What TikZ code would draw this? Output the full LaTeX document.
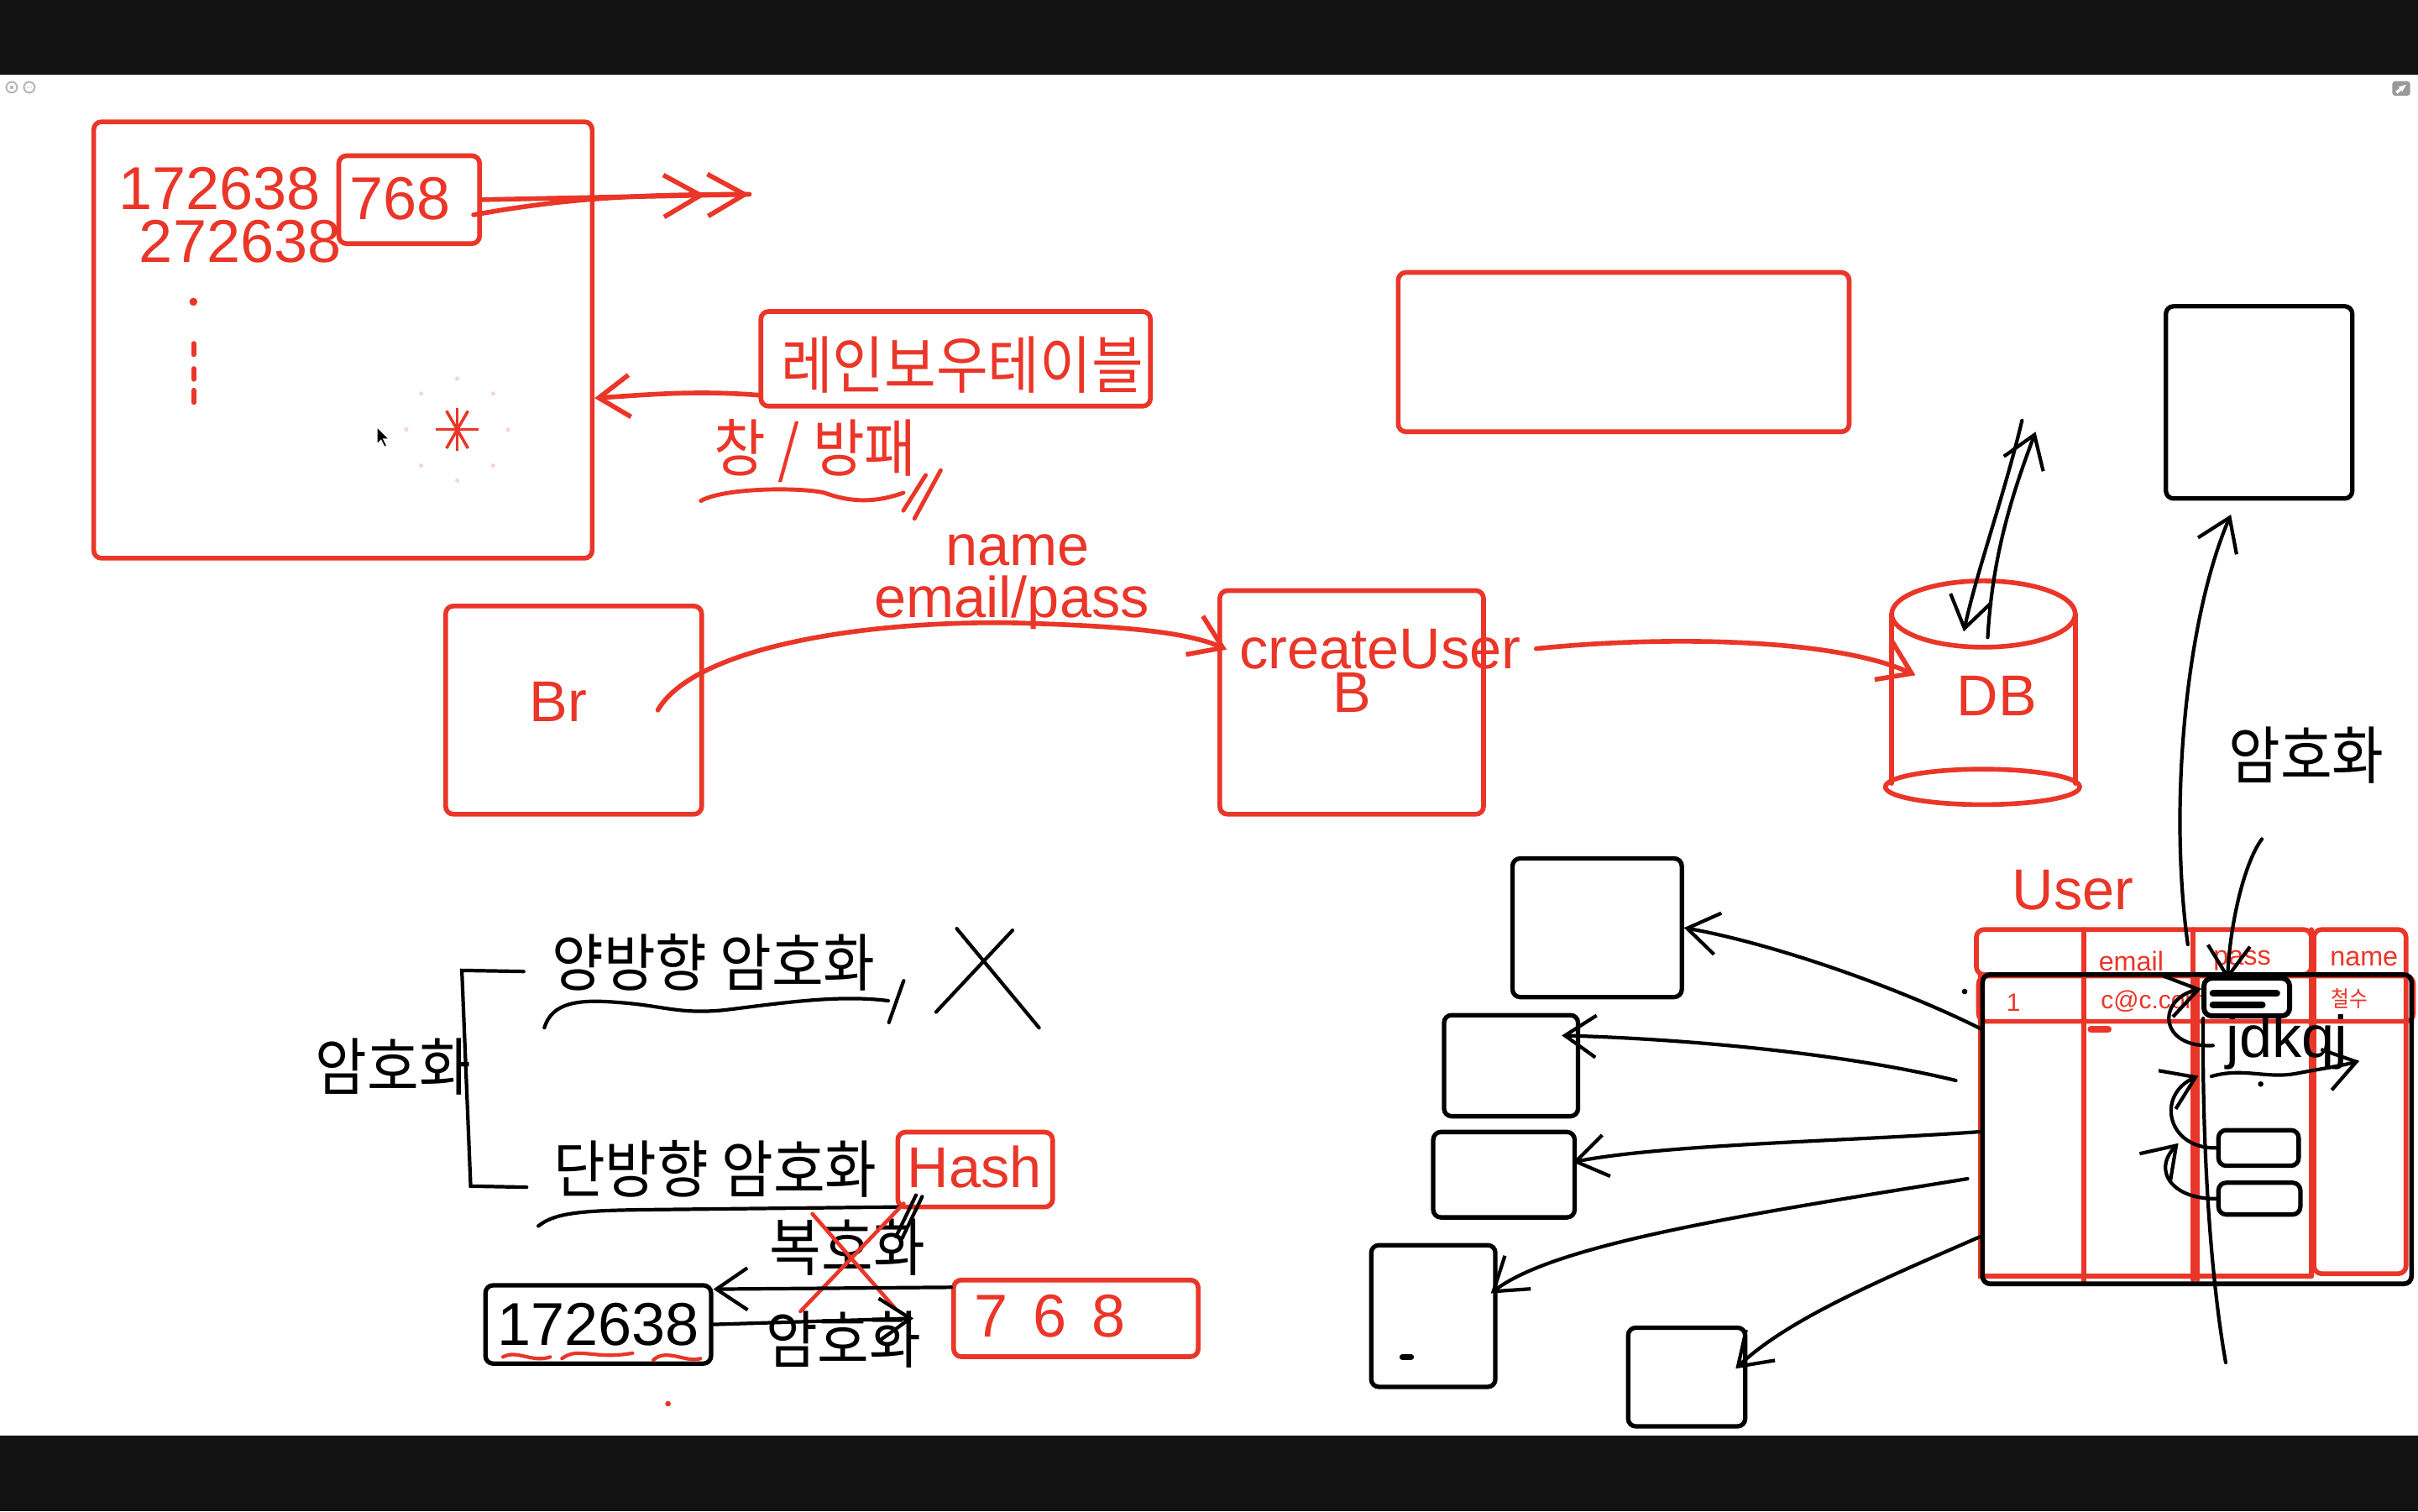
\documentclass[tikz,border=0pt]{standalone}
\usepackage{fontspec}
\setmainfont{Liberation Sans}
\newfontfamily\kr[FakeStretch=0.9]{Noto Sans CJK KR}
\usetikzlibrary{arrows.meta, fit, positioning}
\definecolor{inkred}{RGB}{234,54,40}
\definecolor{band}{RGB}{18,18,18}
\definecolor{glow}{RGB}{244,212,220}
\newcommand\bigsz{\fontsize{19.5}{23}\selectfont}
\newcommand\numsz{\fontsize{20.5}{24}\selectfont}
\newcommand\widesz{\fontsize{20.5}{24}\selectfont\spaceskip=8.5pt\relax}
\newcommand\krsz{\kr\fontsize{21.2}{25}\selectfont}

\begin{document}
\begin{tikzpicture}[x=0.18367mm, y=-0.18367mm,
  redbox/.style={draw=inkred, line width=1.6pt, rounded corners=2.6pt, inner sep=0pt},
  blkbox/.style={draw=black, line width=1.5pt, rounded corners=2.6pt, inner sep=0pt},
  redline/.style={draw=inkred, line width=1.6pt, line cap=round},
  blkline/.style={draw=black, line width=1.2pt, line cap=round},
  hand/.style={-{Straight Barb[length=3.7mm,width=5mm]}},
  redtxt/.style={text=inkred, font=\bigsz, inner sep=0pt},
  rednum/.style={text=inkred, font=\numsz, inner sep=0pt},
  blktxt/.style={text=black, font=\numsz, inner sep=0pt},
  redkr/.style={text=inkred, font=\krsz, inner sep=0pt},
  blkkr/.style={text=black, font=\krsz, inner sep=0pt},
  small/.style={text=inkred, font=\fontsize{9.2}{11}\selectfont, inner sep=0pt}]
\useasboundingbox (0,0) rectangle (1568,980);
\fill[white] (0,0) rectangle (1568,980);
\fill[band] (0,0) rectangle (1568,48.5);
\fill[band] (0,931) rectangle (1568,980);
\draw[gray!55, line width=.6pt] (7.6,56.6) circle[radius=3.5] (19,56.6) circle[radius=3.5];
\fill[gray!55] (6.6,55.6) rectangle (8.6,57.6);
\foreach \d in {-1.4,0,1.4} \fill[gray!55] (19+\d,56.6) circle[radius=.4];
\fill[gray!80, rounded corners=1pt] (1551.3,52.6) rectangle (1562.9,62.1);
\draw[white, line width=1pt, -{Stealth[length=1mm]}] (1554,60) -- (1560.5,54.8);

% rainbow table
\node[redbox, fit={(60.8,79) (384,362)}] (pool) {};
\node[rednum] (hashA) at (142.4,122.3) {172638};
\node[rednum] (hashB) at (155.8,156.6) {272638};
\node[redbox, fit={(219.7,101) (311,158)}] (cut) {};
\node[rednum] (cutnum) at (259.3,129.1) {768};
\coordinate (out) at (486,126);
\draw[redline, -{Straight Barb[length=4.4mm,width=5mm,sep=0pt] Straight Barb[length=4.4mm,width=5mm]}] (cut.east) -- (out);
\draw[redline] ([xshift=-1mm,yshift=-1.8mm]cut.east) .. controls (360,130) and (400,126) .. (out);
\fill[inkred] (125.4,195.7) circle[radius=2.6];
\foreach \a/\b in {222.7/230, 239/246, 253/261} \draw[redline] (125.6,\a) -- (125.6,\b);
\foreach \ang in {0,60,90,120} \draw[inkred, line width=1pt] (296.5,278.6) ++(\ang:14) -- ++(\ang+180:28);
\foreach \ang in {0,45,...,315} \fill[glow] (296.5,278.6) ++(\ang:33) circle[radius=1.4];
\fill[black, draw=white, line width=.3pt] (244.5,277) -- ++(0,11) -- ++(2.6,-2.6) -- ++(2.2,4.5) -- ++(1.6,-.8) -- ++(-2.2,-4.4) -- ++(3.6,0) -- cycle;
\node[redbox, fit={(493.4,202) (746,263.4)}] (rainbow) {};
\node[redkr] (rainbowtxt) at (624,236.8) {레인보우테이블};
\draw[redline, hand] ([yshift=1.6mm]rainbow.south west) .. controls (450,253) and (420,256) .. (pool.-13);
\node[redkr] (spear) at (528.6,292.6) {창 / 방패};
\draw[redline, line width=1.4pt] (454.5,324.8) .. controls (470,316) and (520,316) .. (534.7,319.6) .. controls (552,326) and (568,326) .. (585.8,319.6);
\draw[redline, line width=1.4pt] (585.8,331.1) -- (600.3,308.1) (593,336.3) -- (610,305);

% signup flow
\node[redbox, fit={(289,393) (455,528)}] (br) {};
\node[redtxt] (brtxt) at (362,455) {Br};
\node[redbox, fit={(791,383) (962,528)}] (create) {};
\node[redtxt] (createtxt) at (895,421) {createUser};
\node[redtxt] (btxt) at (877,449) {B};
\node[redtxt] (nametxt) at (660,357) {name};
\node[redtxt] (mailtxt) at (656,391) {email/pass};
\draw[redline, hand] ([xshift=-5.5mm]br.east) .. controls (450,420) and (560,402) .. (660,404) .. controls (730,406) and (770,410) .. ([xshift=1.1mm,yshift=6.3mm]create.west);
\node[inner sep=0pt, fit={(1226.7,376.7) (1345.8,521.9)}] (db) {};
\draw[redline] (1286.2,398.2) ellipse[x radius=59.5, y radius=21.5];
\draw[redline] (1226.7,398.2) -- (1226.7,508) (1345.8,398.2) -- (1345.8,508);
\draw[redline] (1285.6,510.3) ellipse[x radius=63, y radius=11.5];
\node[redtxt] (dbtxt) at (1295,451.5) {DB};
\draw[redline, hand] ([xshift=6mm,yshift=6.4mm]create.east) .. controls (1080,412) and (1190,414) .. ([xshift=2.9mm,yshift=2.1mm]db.west);
\node[redbox, fit={(906.7,176.7) (1199.1,280)}] (blank) {};
\coordinate (upA) at (1311.2,272.7);
\coordinate (upB) at (1320,280);
\draw[blkline, hand] (upA) .. controls (1300,320) and (1282,370) .. ([xshift=-2.35mm,yshift=-6.1mm]db.north);
\draw[blkline, hand] ([xshift=.5mm,yshift=-6.8mm]db.north) .. controls (1292,360) and (1305,320) .. (upB);

% user table
\node[blkbox, fit={(1404.5,198.6) (1525.4,323.3)}] (store) {};
\node[redtxt] (usertxt) at (1344.2,577.3) {User};
\draw[redline, rounded corners=2.6pt] (1281.6,602.8) rectangle (1498.8,632);
\draw[redline, rounded corners=2.6pt] (1500.5,602.8) rectangle (1560.2,826);
\draw[redline, rounded corners=2.6pt] (1283,633) rectangle (1565,662.4);
\draw[redline] (1351.3,602.8) -- (1351.3,832) (1422.1,602.8) -- (1422.1,830) (1425,632) -- (1425,830) (1498.8,602.8) -- (1498.8,827.7);
\draw[redline] (1284,632) -- (1284,827.7) -- (1498.8,827.7);
\draw[redline, line width=2.4pt] (1356,667.5) -- (1367,667.5);
\node[small] (hemail) at (1382,623.5) {email};
\node[small] (hpass) at (1454,622.8) {pass};
\node[small] (hname) at (1533,621.8) {name};
\node[small, font=\fontsize{8.5}{10}\selectfont] (rid) at (1305.7,650.3) {1};
\node[small, font=\fontsize{8.5}{10}\selectfont, anchor=west] (rmail) at (1362,649.5) {c@c.com};
\node[small, font=\fontsize{6}{7}\selectfont] (rpass) at (1450,648) {1234};
\node[small, font=\kr\fontsize{7.5}{9}\selectfont] (rname) at (1523.6,647.8) {철수};
\node[blkbox, line width=1.6pt, fit={(1285.6,632) (1563.8,832.6)}] (user) {};
\node[blkbox, line width=1.7pt, fill=white, fit={(1429.2,634.4) (1484.7,658.8)}] (pw) {};
\draw[black, line width=2.3pt, line cap=round] (1435,644.2) -- (1476.4,644.2) (1435,651.5) -- (1467,651.5);
\draw[blkline, hand] ([xshift=-1.1mm,yshift=3.3mm]user.north) .. controls (1406,520) and (1418,400) .. ([xshift=-3.36mm,yshift=-1.65mm]store.south);
\node[blkkr] (enc2) at (1495.6,490) {암호화};
\draw[blkline, hand] ([xshift=-5.3mm,yshift=-6.5mm]enc2.south) .. controls (1455,560) and (1446,600) .. ([xshift=-2.3mm,yshift=-.5mm]pw.north);
\node[blktxt, font=\fontsize{20}{24}\selectfont] (jd) at (1483,675.7) {jdkqj};
\coordinate (jdl) at (1435,678);
\coordinate (wv) at (1434,698);
\coordinate (wvend) at (1530,688);
\draw[blkline, hand] (wv) .. controls (1455,692) and (1470,700) .. (1490,696) .. controls (1505,693) and (1515,692) .. (wvend);
\fill (1466,703) circle[radius=1.8];
\fill (1274,643) circle[radius=1.8];
\node[blkbox, fit={(1438.6,732.9) (1490.6,756)}] (s1) {};
\node[blkbox, fit={(1438.6,767) (1491.7,787.6)}] (s2) {};
\draw[blkline, hand] (jdl) .. controls (1400,680) and (1398,648) .. ([yshift=1mm]pw.west);
\coordinate (c2) at (1425.6,697.7);
\coordinate (c3) at (1412.6,741.4);
\draw[blkline, hand] (s1.west) .. controls (1405,745) and (1398,710) .. (c2);
\draw[blkline, hand] (s2.west) .. controls (1410,778) and (1395,760) .. (c3);
\coordinate (pwend) at (1443.3,883.6);
\draw[blkline] ([xshift=.2mm]pw.south west) .. controls (1428,730) and (1432,820) .. (pwend);

% rows
\node[blkbox, fit={(980.8,556.7) (1090.6,646.6)}] (b1) {};
\node[blkbox, fit={(936.4,658.3) (1023.3,723.9)}] (b2) {};
\node[blkbox, fit={(929.4,734.1) (1021.1,789.5)}] (b3) {};
\node[blkbox, fit={(889.2,807.5) (969.7,899.4)}] (b4) {};
\node[blkbox, fit={(1055.8,861) (1131.7,925)}] (b5) {};
\draw[black, line width=2pt, line cap=round] (909.4,880) -- (915,880);
\draw[blkline, hand] ([yshift=-6.7mm]user.north west) .. controls (1230,640) and (1150,612) .. (b1.east);
\draw[blkline, hand] ([xshift=-2.9mm,yshift=-12.9mm]user.north west) .. controls (1200,684) and (1100,674) .. ([xshift=-2.2mm,yshift=3.6mm]b2.east);
\draw[blkline, hand] ([yshift=-19mm]user.north west) .. controls (1200,740) and (1080,742) .. ([xshift=-.5mm,yshift=1.5mm]b3.east);
\draw[blkline, hand] ([xshift=-1.5mm,yshift=-24.6mm]user.north west) .. controls (1150,785) and (1010,805) .. ([xshift=-.8mm,yshift=2.7mm]b4.east);
\draw[blkline, hand] ([yshift=-31.5mm]user.north west) .. controls (1220,830) and (1160,855) .. ([xshift=-1.4mm,yshift=1mm]b5.east);

% encryption
\node[blkkr] (enc) at (255,692) {암호화};
\node[blkkr] (twoway) at (462.8,624) {양방향 암호화};
\node[blkkr] (oneway) at (463.8,758) {단방향 암호화};
\draw[blkline] (339.6,630) -- (299.5,629.3) -- (305.2,769.2) -- (341.5,769.9);
\draw[blkline] (353,666.5) .. controls (358,650) and (375,648) .. (400,650) .. controls (430,652) and (440,658) .. (470,655) .. controls (510,650) and (545,645) .. (576,649);
\draw[blkline] (586,636) -- (576.4,663.1);
\draw[blkline] (620.4,602.2) -- (673.8,666.5) (656.6,603.3) -- (607,656.3);
\node[redbox, fit={(582.2,734.2) (682.6,782.7)}] (hash) {};
\node[redtxt] (hashtxt) at (632,757) {Hash};
\draw[blkline] (349.1,795.1) .. controls (360,786) and (380,785) .. (420,784.5) -- (584,782.7);
\node[blkkr] (dec) at (549.6,809) {복호화};
\draw[redline, line width=1.3pt] (526.8,787.2) -- (580.2,848.2) (586,780.5) -- (519.1,850.4);
\draw[blkline] (594,775) -- (581,802) (598,776) -- (585,803);
\node[blkbox, fit={(314.8,833.5) (461.1,884.3)}] (plain) {};
\node[blktxt] (plaintxt) at (388,859) {172638};
\draw[redline, line width=1.2pt] (326.2,880) .. controls (335,875) and (345,884) .. (356.8,880);
\draw[redline, line width=1.2pt] (364.4,881) .. controls (375,873) and (385,882) .. (410.2,877.5);
\draw[redline, line width=1.2pt] (423.6,882) .. controls (432,874) and (445,884) .. (454.2,881);
\node[redbox, fit={(618.4,830.1) (777,879.8)}] (digest) {};
\node[rednum, font=\widesz] (digesttxt) at (681,853.3) {7 6 8};
\draw[blkline, hand] ([yshift=3.7mm]digest.west) -- ([yshift=4.2mm]plain.east);
\draw[blkline, hand] (plain.east) -- ([xshift=-4.5mm]digest.west);
\node[blkkr] (enc3) at (547,868.5) {암호화};
\fill[inkred] (433.2,910.3) circle[radius=1.8];
\end{tikzpicture}
\end{document}
